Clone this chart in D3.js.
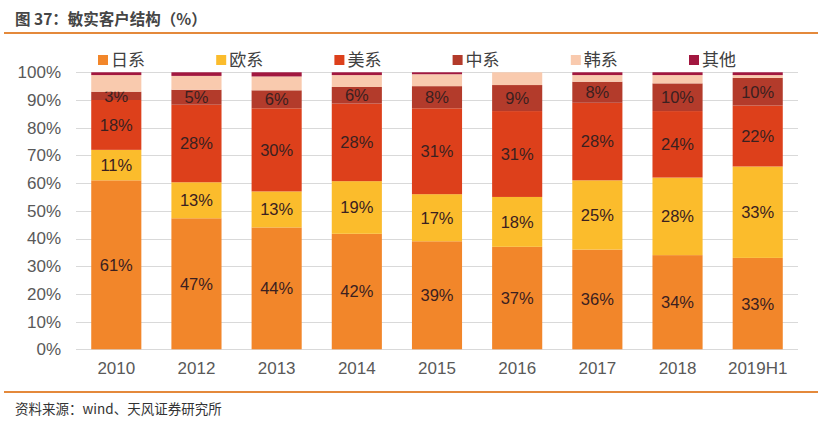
<!DOCTYPE html>
<html><head><meta charset="utf-8">
<script src="https://cdn.jsdelivr.net/npm/d3@7"></script>
<style>body{margin:0;background:#fff;}svg{display:block;font-family:"Liberation Sans","Noto Sans CJK SC",Arial,sans-serif;}</style>
</head><body><svg id="c" width="822" height="421"></svg>
<script>
const categories = ["2010","2012","2013","2014","2015","2016","2017","2018","2019H1"];
const seriesNames = ["日系","欧系","美系","中系","韩系","其他"];
const japan  = [61, 47.3, 44, 41.7, 39, 37, 36, 34, 33];
const europe = [11, 13, 13, 19, 17, 18, 25, 28, 33];
const usa    = [18, 28, 30, 28, 31, 31, 28, 24, 22];
const china  = [3, 5.4, 6.5, 6, 8, 9.4, 7.6, 10, 10];
const korea  = [6, 5, 5, 4.3, 4.3, 4.6, 2.4, 3, 1];
const other  = [1, 1.3, 1.5, 1, 0.7, 0, 1, 1, 1];
const labelJapan  = ["61%","47%","44%","42%","39%","37%","36%","34%","33%"];
const labelEurope = ["11%","13%","13%","19%","17%","18%","25%","28%","33%"];
const labelUsa    = ["18%","28%","30%","28%","31%","31%","28%","24%","22%"];
const labelChina  = ["3%","5%","6%","6%","8%","9%","8%","10%","10%"];
const yTicks = [0,10,20,30,40,50,60,70,80,90,100];
const colors = ["#F2862A","#FBBC2C","#DD401B","#B33B2B","#F9CAAE","#A2173F"];

const seriesValues = [japan, europe, usa, china, korea, other];
const seriesLabels = [labelJapan, labelEurope, labelUsa, labelChina, null, null];
const rows = categories.map((c,i)=>{const r={cat:c}; seriesNames.forEach((s,j)=>r[s]=seriesValues[j][i]); return r;});
const stack = d3.stack().keys(seriesNames)(rows);

const svg = d3.select("#c");
const x = d3.scaleBand().domain(categories).range([76,798]).paddingInner(0.375).paddingOuter(0.19);
const y = d3.scaleLinear().domain([0,100]).range([349.3,72.3]);

// title
svg.append("text").attr("x",15).attr("y",25).attr("font-size",15.5).attr("font-weight","bold").attr("fill","#454545")
  .attr("font-family","'Noto Sans CJK SC',sans-serif").text("图 37：敏实客户结构（%）");
svg.append("line").attr("x1",4).attr("x2",818).attr("y1",33).attr("y2",33).attr("stroke","#E4893B").attr("stroke-width",2);
svg.append("line").attr("x1",4).attr("x2",818).attr("y1",392).attr("y2",392).attr("stroke","#E4893B").attr("stroke-width",2);
svg.append("text").attr("x",15).attr("y",414).attr("font-size",13.5).attr("fill","#333")
  .attr("font-family","'Noto Sans CJK SC',sans-serif").text("资料来源：wind、天风证券研究所");

// gridlines
svg.append("g").selectAll("line").data(yTicks).join("line")
  .attr("x1",76).attr("x2",798).attr("y1",d=>Math.round(y(d))+0.5).attr("y2",d=>Math.round(y(d))+0.5)
  .attr("stroke","#D9D9D9").attr("stroke-width",1);

// y axis
const yAxis = svg.append("g").attr("transform","translate(65,0)")
  .call(d3.axisLeft(y).tickValues(yTicks).tickFormat(d=>d+"%").tickSize(0).tickPadding(4));
yAxis.select(".domain").remove();
yAxis.selectAll("text").attr("font-size",17).attr("fill","#595959").attr("font-family","'Liberation Sans',Arial,sans-serif");

// x axis
const xAxis = svg.append("g").attr("transform","translate(0,349)")
  .call(d3.axisBottom(x).tickSize(0).tickPadding(13));
xAxis.select(".domain").remove();
xAxis.selectAll("text").attr("font-size",17).attr("fill","#595959").attr("font-family","'Liberation Sans',Arial,sans-serif");

// bars
const g = svg.append("g");
stack.forEach((layer,j)=>{
  g.append("g").selectAll("rect").data(layer).join("rect")
    .attr("x",d=>x(d.data.cat)).attr("width",x.bandwidth())
    .attr("y",d=>y(d[1])).attr("height",d=>y(d[0])-y(d[1]))
    .attr("fill",colors[j]);
  if(seriesLabels[j]){
    g.append("g").selectAll("text").data(layer).join("text")
      .attr("x",d=>x(d.data.cat)+x.bandwidth()/2)
      .attr("y",d=>(y(d[0])+y(d[1]))/2).attr("dy","0.36em")
      .attr("text-anchor","middle").attr("font-size",16.5).attr("fill","#3a2020")
      .attr("font-family","'Liberation Sans',Arial,sans-serif")
      .text((d,i)=>seriesLabels[j][i]);
  }
});

// legend
const leg = svg.append("g");
seriesNames.forEach((s,j)=>{
  const lx = 98 + j*118.2;
  leg.append("rect").attr("x",lx).attr("y",55).attr("width",10).attr("height",10).attr("fill",colors[j]);
  leg.append("text").attr("x",lx+13).attr("y",60).attr("dy","0.36em").attr("font-size",17).attr("fill","#404040")
    .attr("font-family","'Noto Sans CJK SC',sans-serif").text(s);
});
</script></body></html>
